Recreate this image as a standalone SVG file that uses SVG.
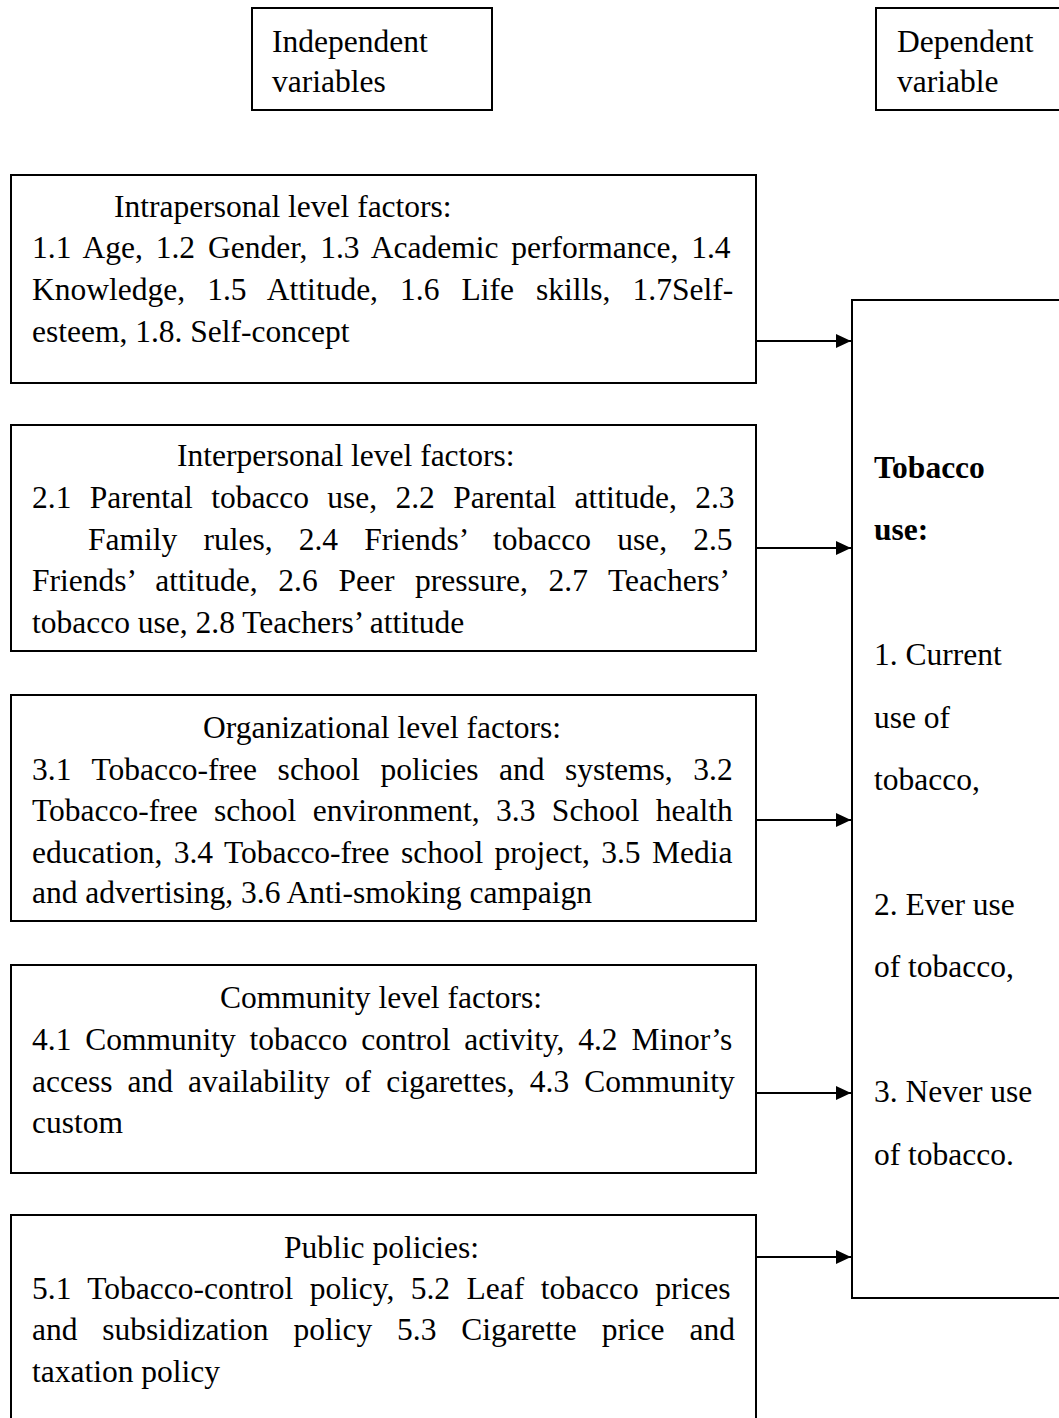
<svg xmlns="http://www.w3.org/2000/svg" width="1059" height="1418" viewBox="0 0 1059 1418">
<defs>
<style>
.box{fill:#fff;stroke:#000;stroke-width:2}
.t{font-family:"Liberation Serif","Times New Roman",serif;font-size:31.5px;fill:#000}
.b{font-weight:bold}
.c{stroke:#000;stroke-width:2;fill:none}
</style>
<marker id="ah" markerUnits="userSpaceOnUse" markerWidth="15" markerHeight="14" refX="15" refY="7" orient="auto">
<path d="M0,0 L15,7 L0,14 z" fill="#000"/>
</marker>
</defs>
<rect width="1059" height="1418" fill="#fff"/>

<g id="hdr-independent">
<rect class="box" x="252" y="8" width="240" height="102"/>
<text class="t" x="272" y="52">Independent</text>
<text class="t" x="272" y="92">variables</text>
</g>

<g id="hdr-dependent">
<rect class="box" x="876" y="8" width="200" height="102"/>
<text class="t" x="897" y="52">Dependent</text>
<text class="t" x="897" y="92">variable</text>
</g>

<g id="intrapersonal">
<rect class="box" x="11" y="175" width="745" height="208"/>
<text class="t" x="114" y="217">Intrapersonal level factors:</text>
<text class="t" x="32" y="258" word-spacing="5">1.1 Age, 1.2 Gender, 1.3 Academic performance, 1.4</text>
<text class="t" x="32" y="300" word-spacing="14.2">Knowledge, 1.5 Attitude, 1.6 Life skills, 1.7Self-</text>
<text class="t" x="32" y="342">esteem, 1.8. Self-concept</text>
</g>

<g id="interpersonal">
<rect class="box" x="11" y="425" width="745" height="226"/>
<text class="t" x="177" y="466">Interpersonal level factors:</text>
<text class="t" x="32" y="508" word-spacing="10.4">2.1 Parental tobacco use, 2.2 Parental attitude, 2.3</text>
<text class="t" x="88" y="550" word-spacing="18.3">Family rules, 2.4 Friends’ tobacco use, 2.5</text>
<text class="t" x="32" y="591" word-spacing="12.8">Friends’ attitude, 2.6 Peer pressure, 2.7 Teachers’</text>
<text class="t" x="32" y="633">tobacco use, 2.8 Teachers’ attitude</text>
</g>

<g id="organizational">
<rect class="box" x="11" y="695" width="745" height="226"/>
<text class="t" x="203" y="738">Organizational level factors:</text>
<text class="t" x="32" y="780" word-spacing="12.7">3.1 Tobacco-free school policies and systems, 3.2</text>
<text class="t" x="32" y="821" word-spacing="8.5">Tobacco-free school environment, 3.3 School health</text>
<text class="t" x="32" y="863" word-spacing="3.5">education, 3.4 Tobacco-free school project, 3.5 Media</text>
<text class="t" x="32" y="903">and advertising, 3.6 Anti-smoking campaign</text>
</g>

<g id="community">
<rect class="box" x="11" y="965" width="745" height="208"/>
<text class="t" x="220" y="1008">Community level factors:</text>
<text class="t" x="32" y="1050" word-spacing="5.9">4.1 Community tobacco control activity, 4.2 Minor’s</text>
<text class="t" x="32" y="1092" word-spacing="7.2">access and availability of cigarettes, 4.3 Community</text>
<text class="t" x="32" y="1133">custom</text>
</g>

<g id="public-policies">
<path class="box" d="M11,1430 V1215 H756 V1430"/>
<text class="t" x="284" y="1258">Public policies:</text>
<text class="t" x="32" y="1299" word-spacing="8.6">5.1 Tobacco-control policy, 5.2 Leaf tobacco prices</text>
<text class="t" x="32" y="1340" word-spacing="17">and subsidization policy 5.3 Cigarette price and</text>
<text class="t" x="32" y="1382">taxation policy</text>
</g>

<g id="tobacco-use">
<rect class="box" x="852" y="300" width="230" height="998"/>
<text class="t b" x="874" y="478">Tobacco</text>
<text class="t b" x="874" y="540">use:</text>
<text class="t" x="874" y="665">1. Current</text>
<text class="t" x="874" y="728">use of</text>
<text class="t" x="874" y="790">tobacco,</text>
<text class="t" x="874" y="915">2. Ever use</text>
<text class="t" x="874" y="977">of tobacco,</text>
<text class="t" x="874" y="1102">3. Never use</text>
<text class="t" x="874" y="1165">of tobacco.</text>
</g>

<g id="connectors">
<line class="c" x1="757" y1="341" x2="851" y2="341" marker-end="url(#ah)"/>
<line class="c" x1="757" y1="548" x2="851" y2="548" marker-end="url(#ah)"/>
<line class="c" x1="757" y1="820" x2="851" y2="820" marker-end="url(#ah)"/>
<line class="c" x1="757" y1="1093" x2="851" y2="1093" marker-end="url(#ah)"/>
<line class="c" x1="757" y1="1257" x2="851" y2="1257" marker-end="url(#ah)"/>
</g>
</svg>
